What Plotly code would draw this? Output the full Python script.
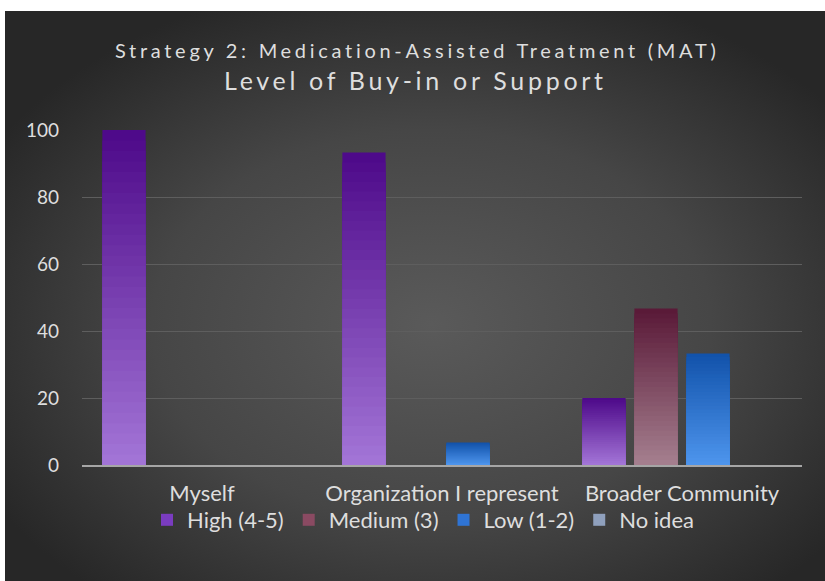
import base64
import plotly.graph_objects as go

categories = ["Myself", "Organization I represent", "Broader Community"]
series_names = ["High (4-5)", "Medium (3)", "Low (1-2)", "No idea"]
high_vals = [100, 93.3, 20]
medium_vals = [0, 0, 46.7]
low_vals = [0, 6.7, 33.3]
noidea_vals = [0, 0, 0]
y_ticks = [0, 20, 40, 60, 80, 100]

# gradient colours (top, bottom) per series
top_colors = ["#4e0a8a", "#5a1a38", "#1253ab", "#7d8fae"]
bottom_colors = ["#a274d6", "#a47e8e", "#4d94ec", "#a9b6cc"]
legend_colors = ["#7a3cc0", "#8a4a62", "#2f74d4", "#8fa0bd"]

W, H = 825, 581
L, R, T, B = 82, 23, 130, 116
pw, ph = W - L - R, H - T - B

def hex2rgb(h):
    h = h.lstrip("#")
    return [int(h[i:i + 2], 16) for i in (0, 2, 4)]

def mix(c1, c2, t):
    a, b = hex2rgb(c1), hex2rgb(c2)
    return "rgb(%d,%d,%d)" % tuple(round(a[i] + (b[i] - a[i]) * t) for i in range(3))

fig = go.Figure()
N = 32
all_vals = [high_vals, medium_vals, low_vals, noidea_vals]
for s, (name, vals) in enumerate(zip(series_names, all_vals)):
    for k in range(N):
        frac = (N - k) / N
        fig.add_trace(go.Bar(
            x=categories,
            y=[v * frac if v else None for v in vals],
            name=name,
            offsetgroup=str(s),
            legendgroup=name,
            showlegend=False,
            marker=dict(color=mix(top_colors[s], bottom_colors[s], k / (N - 1)), line=dict(width=0)),
            hoverinfo="skip",
        ))
    fig.add_trace(go.Bar(
        x=categories, y=[None, None, None], name=name, offsetgroup=str(s), legendgroup=name,
        showlegend=True, marker=dict(color=legend_colors[s], line=dict(width=0)), hoverinfo="skip",
    ))

svg = ('<svg xmlns="http://www.w3.org/2000/svg" width="820" height="570" viewBox="0 0 820 570" '
       'preserveAspectRatio="none"><defs><radialGradient id="g" cx="52%" cy="55%" r="62%">'
       '<stop offset="0" stop-color="#5a5a5a"/><stop offset="0.55" stop-color="#464646"/>'
       '<stop offset="1" stop-color="#272727"/></radialGradient></defs>'
       '<rect width="820" height="570" fill="url(#g)"/></svg>')
src = "data:image/svg+xml;base64," + base64.b64encode(svg.encode()).decode()

fig.add_layout_image(dict(
    source=src, xref="paper", yref="paper",
    x=(5 - L) / pw, y=(H - B - 11) / ph, sizex=820 / pw, sizey=570 / ph,
    xanchor="left", yanchor="top", sizing="stretch", layer="below",
))

font_family = "Lato, 'Open Sans', sans-serif"
txt = "#dedede"

fig.add_annotation(text='<span style="letter-spacing:3.7px">Strategy 2: Medication-Assisted Treatment (MAT)</span>',
                   xref="paper", yref="paper",
                   x=(417 - L) / pw, y=(H - B - 50) / ph, xanchor="center", yanchor="middle",
                   showarrow=False, font=dict(family=font_family, size=20, color=txt))
fig.add_annotation(text='<span style="letter-spacing:3.7px">Level of Buy-in or Support</span>',
                   xref="paper", yref="paper",
                   x=(415 - L) / pw, y=(H - B - 80) / ph, xanchor="center", yanchor="middle",
                   showarrow=False, font=dict(family=font_family, size=25, color=txt))

fig.update_layout(
    width=W, height=H,
    margin=dict(l=L, r=R, t=T, b=B),
    paper_bgcolor="white",
    plot_bgcolor="rgba(0,0,0,0)",
    barmode="group",
    bargap=0.133,
    bargroupgap=0.17,
    font=dict(family=font_family, color=txt, size=20),
    showlegend=True,
    legend=dict(orientation="h", x=(423 - L) / pw, xanchor="center", y=(H - B - 520) / ph,
                yanchor="middle", font=dict(size=22, color=txt), bgcolor="rgba(0,0,0,0)",
                itemwidth=30, traceorder="normal"),
    xaxis=dict(showgrid=False, showline=True, linecolor="#a6a6a6", linewidth=2,
               tickfont=dict(size=22, color=txt), ticks="", ticklabelstandoff=8),
    yaxis=dict(range=[0, 100], tickvals=y_ticks, showgrid=True, gridcolor="#5e5e5e", gridwidth=1,
               zeroline=False, showline=False, tickfont=dict(size=19, color=txt), ticks="",
               ticklabelstandoff=22),
)

fig.write_html("out.html", config={"displayModeBar": False},
               post_script="document.body.style.margin='0';")
